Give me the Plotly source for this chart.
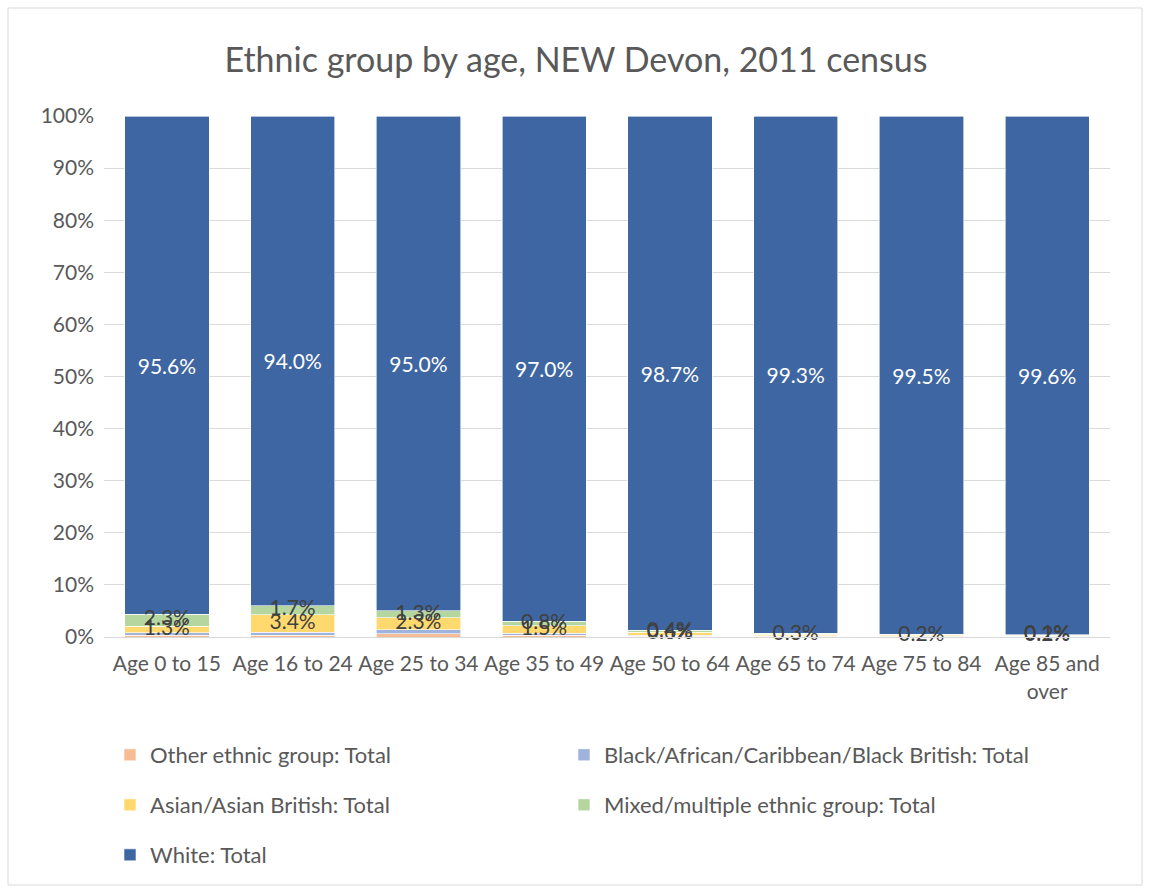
import plotly.graph_objects as go
import numpy as np

categories = ["Age 0 to 15", "Age 16 to 24", "Age 25 to 34", "Age 35 to 49",
              "Age 50 to 64", "Age 65 to 74", "Age 75 to 84", "Age 85 and<br>over"]
other = [0.3, 0.3, 0.6, 0.3, 0.1, 0.1, 0.1, 0.05]
black = [0.5, 0.6, 0.8, 0.4, 0.2, 0.1, 0.1, 0.05]
asian = [1.3, 3.4, 2.3, 1.5, 0.6, 0.3, 0.2, 0.2]
mixed = [2.3, 1.7, 1.3, 0.8, 0.4, 0.2, 0.1, 0.1]
white = [95.6, 94.0, 95.0, 97.0, 98.7, 99.3, 99.5, 99.6]
asian_labels = ["1.3%", "3.4%", "2.3%", "1.5%", "0.6%", "0.3%", "0.2%", "0.2%"]
mixed_labels = ["2.3%", "1.7%", "1.3%", "0.8%", "0.4%", "", "", "0.1%"]

series = [
    ("Other ethnic group: Total", other, "#f6bd94", "legend"),
    ("Black/African/Caribbean/Black British: Total", black, "#9fb3dc", "legend2"),
    ("Asian/Asian British: Total", asian, "#ffd96e", "legend3"),
    ("Mixed/multiple ethnic group: Total", mixed, "#b5d69f", "legend4"),
    ("White: Total", white, "#3e66a2", "legend5"),
]

FONT = "Lato"
LBL = 21

fig = go.Figure()
for name, vals, col, lg in series:
    v = np.array(vals) / 100.0
    if name.startswith("White"):
        kw = dict(text=[f"{x:.1f}%" for x in vals], textposition="inside",
                  insidetextanchor="middle", textangle=0,
                  textfont=dict(color="white", size=LBL, family=FONT))
    else:
        kw = dict(textposition="none")
    fig.add_trace(go.Bar(name=name, x=categories, y=v,
                         marker=dict(color=col, line=dict(color="white", width=0.6)),
                         legend=lg, hoverinfo="name+y", **kw))

# small labels placed at segment centres
base_asian = (np.array(other) + np.array(black)) / 100.0
c_asian = base_asian + np.array(asian) / 200.0
c_mixed = base_asian + np.array(asian) / 100.0 + np.array(mixed) / 200.0
for centers, labels in [(c_mixed, mixed_labels), (c_asian, asian_labels)]:
    fig.add_trace(go.Scatter(x=categories, y=centers, mode="text", text=labels,
                             textposition="middle center", showlegend=False, hoverinfo="skip",
                             cliponaxis=False,
                             textfont=dict(color="#404040", size=LBL, family=FONT)))

px_l, px_r, px_t, px_b = 104, 1110, 116, 637
W, H = 1152, 890
pw, ph = px_r - px_l, px_b - px_t

def ppx(x):
    return (x - px_l) / pw

def ppy(y):
    return (px_b - y) / ph

fig.add_shape(type="rect", xref="paper", yref="paper", x0=ppx(8), x1=ppx(1142), y0=ppy(885), y1=ppy(8),
              line=dict(color="#d9d9d9", width=1), fillcolor="rgba(0,0,0,0)", layer="below")

legend_common = dict(orientation="v", xanchor="left", yanchor="middle",
                     font=dict(size=22, color="#595959", family=FONT),
                     bgcolor="rgba(0,0,0,0)", itemwidth=30)

col1, col2 = ppx(110), ppx(564)
fig.update_layout(
    width=W, height=H,
    margin=dict(l=px_l, r=W - px_r, t=px_t, b=H - px_b, pad=0),
    paper_bgcolor="white", plot_bgcolor="white",
    barmode="stack", bargap=0.33,
    title=dict(text="Ethnic group by age, NEW Devon, 2011 census", x=0.5, xanchor="center",
               y=1 - 60 / H, yanchor="middle", font=dict(size=34, color="#595959", family=FONT)),
    font=dict(family=FONT, color="#595959"),
    xaxis=dict(tickfont=dict(size=21, color="#595959"), showline=True, linecolor="#d9d9d9",
               linewidth=1, ticks="", showgrid=False, ticklabelstandoff=8),
    yaxis=dict(range=[0, 1], dtick=0.1, tickformat=".0%", tickfont=dict(size=21, color="#595959"),
               gridcolor="#d9d9d9", gridwidth=1, zeroline=False, showline=False, ticks="",
               ticklabelstandoff=9),
    legend=dict(x=col1, y=ppy(755), **legend_common),
    legend2=dict(x=col2, y=ppy(755), **legend_common),
    legend3=dict(x=col1, y=ppy(805), **legend_common),
    legend4=dict(x=col2, y=ppy(805), **legend_common),
    legend5=dict(x=col1, y=ppy(855), **legend_common),
    showlegend=True,
)

fig.write_html("out.html")
